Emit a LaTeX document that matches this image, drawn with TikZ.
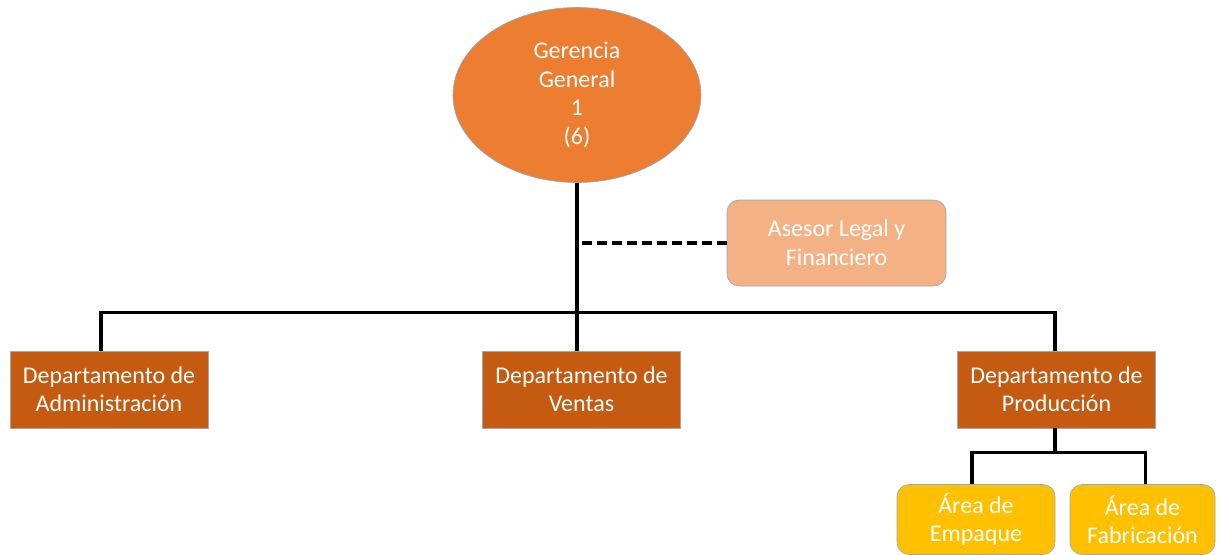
\documentclass[tikz,border=0pt]{standalone}
\usepackage{fontspec}
\setmainfont{Carlito}
\usetikzlibrary{shapes.geometric}
\definecolor{gg}{HTML}{ED7D31}
\definecolor{ase}{HTML}{F4B183}
\definecolor{dep}{HTML}{C55A11}
\definecolor{area}{HTML}{FFC000}
\definecolor{edge}{HTML}{8FA9C8}
\tikzset{
  txt/.style={text=white, font=\fontsize{24}{28.5}\selectfont, align=center, inner sep=0pt},
  depbox/.style={txt, draw=gray!70, line width=0.6pt, fill=dep, minimum width=198pt, minimum height=77pt},
  areabox/.style={txt, draw=edge, line width=0.6pt, fill=area, rounded corners=12pt},
  conn/.style={line width=3.5pt},
}
\begin{document}
\begin{tikzpicture}[x=1pt,y=-1pt]
\useasboundingbox[fill=white] (0,0) rectangle (1220,554);
\node[txt, ellipse, draw=edge, line width=0.6pt, fill=gg, minimum width=248pt, minimum height=175pt] (ger) at (577,95) {Gerencia\\General\\1\\(6)};
\node[areabox, fill=ase, draw=edge, minimum width=219pt, minimum height=86pt] (ase) at (836.5,243) {Asesor Legal y\\Financiero};
\node[depbox] (adm) at (109,389.5) {Departamento de\\Administración};
\node[depbox] (ven) at (581.5,389.5) {Departamento de\\Ventas};
\node[depbox] (pro) at (1056.5,389.5) {Departamento de\\Producción};
\node[areabox, minimum width=158pt, minimum height=70pt] (emp) at (976,519.5) {Área de\\Empaque};
\node[areabox, minimum width=145pt, minimum height=70pt] (fab) at (1142.5,519.5) {Área de\\Fabricación};
\draw[conn] (ger.south) -- (ger.south |- ven.north);
\draw[conn] ([xshift=-8pt]adm.north) -- ++(0,-38) -| ([xshift=-1.5pt]pro.north);
\draw[line width=3.5pt, dash pattern=on 10pt off 5pt] (ase.west) -- (ase.west -| ger.south);
\draw[conn] ([xshift=-1.5pt]pro.south) -- ++(0,24) coordinate (pj);
\draw[conn] ([xshift=-4pt]emp.north) |- (pj) -| ([xshift=3pt]fab.north);
\end{tikzpicture}
\end{document}
